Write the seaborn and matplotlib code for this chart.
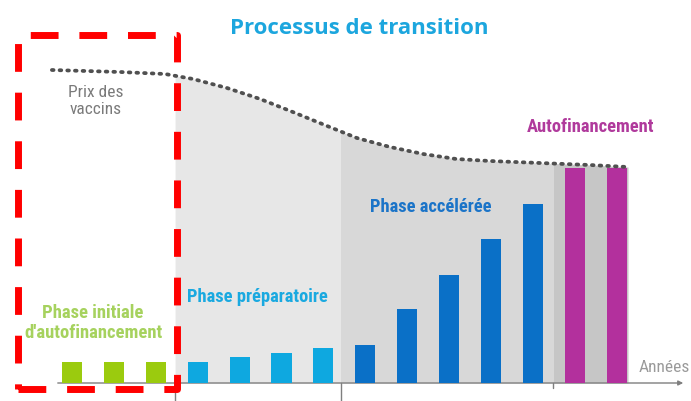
import numpy as np
import pandas as pd
import matplotlib
matplotlib.use("Agg")
import matplotlib.pyplot as plt
from matplotlib.patches import Rectangle
import seaborn as sns

# ---------------- data ----------------
years = list(range(14))
phases = (["Phase initiale"] * 3 + ["Phase préparatoire"] * 4 +
          ["Phase accélérée"] * 5 + ["Autofinancement"] * 2)
bar_values = [21, 21, 21, 21, 26, 30, 35, 38, 74, 108, 144, 179, 215, 215]

price_x = [-0.48, 1.15, 2.22, 2.89, 3.70, 4.49, 5.27, 6.09, 6.80, 7.59,
           8.38, 9.17, 9.98, 11.17, 12.36, 13.27]
price = [313, 311, 309, 304, 295, 284, 271, 257, 245, 236,
         229, 224, 222, 220, 218, 216]

phase_bounds = [2.46, 6.40, 11.48, 13.27]
phase_fill = ["#e7e7e7", "#d8d8d8", "#c6c6c6"]

palette = {"Phase initiale": "#9bcb0e", "Phase préparatoire": "#0ea8e0",
           "Phase accélérée": "#0a70c7", "Autofinancement": "#b3309d"}

df = pd.DataFrame({"annee": years, "valeur": bar_values, "phase": phases})

# ---------------- layout helpers ----------------
X0, DX, BASE = 72.0, 41.9, 383.0
def P(xp, yp):
    return ((xp - X0) / DX, BASE - yp)

sns.set_theme(style="white")
plt.rcParams["font.family"] = ["DejaVu Sans"]
NARROW = ["Roboto Condensed", "DejaVu Sans"]

fig = plt.figure(figsize=(6.91, 4.01), dpi=100)
ax = fig.add_axes([0, 0, 1, 1])

# gray phase backgrounds under the price curve
px = np.array(price_x)
py = np.array(price)
for (a, b), col in zip(zip(phase_bounds[:-1], phase_bounds[1:]), phase_fill):
    inside = (px > a) & (px < b)
    xs = np.concatenate([[a], px[inside], [b]])
    ys = np.concatenate([[np.interp(a, px, py)], py[inside], [np.interp(b, px, py)]])
    ax.fill_between(xs, 0, ys, color=col, lw=0, zorder=0)

# bars
sns.barplot(data=df, x="annee", y="valeur", hue="phase", palette=palette,
            dodge=False, width=0.48, legend=False, ax=ax, zorder=2,
            saturation=1, native_scale=True, linewidth=0, edgecolor="none")
ax.set_xlim(-X0 / DX, (691 - X0) / DX)
ax.set_ylim(BASE - 401, BASE)
ax.axis("off")

# price curve (dotted)
ax.plot(price_x, price, color="#505050", lw=2.7,
        linestyle=(0, (0.45, 1.6)), dash_capstyle="round", zorder=3)

# baseline with arrow
ax.annotate("", xy=P(686, 383), xytext=P(55, 383),
            arrowprops=dict(arrowstyle="-|>", color="#7f7f7f", lw=1.0,
                            mutation_scale=7), zorder=1)
for xb, yb in [(175, 401), (341, 401), (553, 388)]:
    ax.plot(*zip(P(xb, 383), P(xb, yb)), color="#7f7f7f", lw=1.0, zorder=1)

# texts
ax.text(*P(359, 28), "Processus de transition", color="#1ca6de",
        fontsize=16, fontweight="bold", family=["Open Sans", "DejaVu Sans"],
        ha="center", va="center")
ax.text(*P(96, 101), "Prix des\nvaccins", color="#7a7a7a", fontsize=12.5,
        family=NARROW, ha="center", va="center", linespacing=1.1)
ax.text(*P(93, 323), "Phase initiale\nd'autofinancement", color="#a6d25e",
        fontsize=13.4, fontweight="bold", family=NARROW, ha="center",
        va="center", linespacing=1.2)
ax.text(*P(187, 297), "Phase préparatoire", color="#1aa9e0", fontsize=13.3,
        fontweight="bold", family=NARROW, ha="left", va="center")
ax.text(*P(370, 207), "Phase accélérée", color="#1b74c8", fontsize=13.3,
        fontweight="bold", family=NARROW, ha="left", va="center")
ax.text(*P(527, 127), "Autofinancement", color="#b03a9c", fontsize=13.3,
        fontweight="bold", family=NARROW, ha="left", va="center")
ax.text(*P(639, 367), "Années", color="#9a9a9a", fontsize=12.5,
        family=NARROW, ha="left", va="center")

# red dashed frame
x1, y1 = P(18, 389)
x2, y2 = P(177, 35)
ax.add_patch(Rectangle((x1, y1), x2 - x1, y2 - y1, fill=False,
                       edgecolor="#ff0000", lw=5, linestyle=(0, (4, 3)),
                       joinstyle="round", zorder=6, clip_on=False))

fig.savefig("out.png", dpi=100)
